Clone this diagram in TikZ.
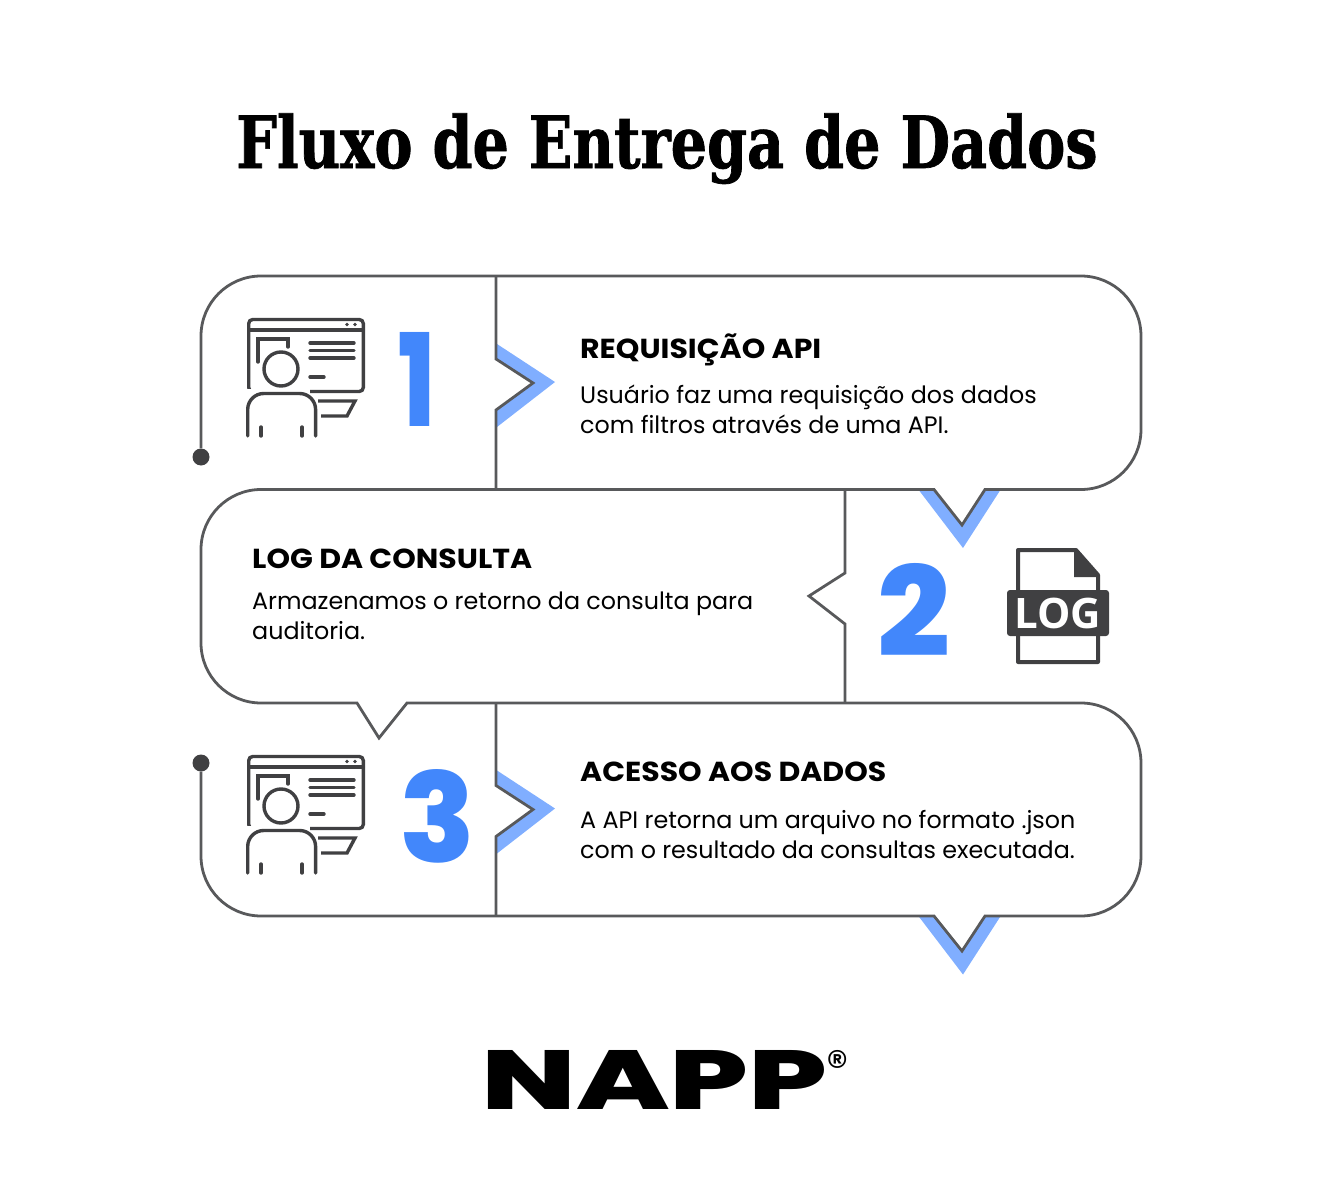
\documentclass[tikz,border=0pt]{standalone}
\usepackage{fontspec}
\setmainfont{Poppins}
\newfontfamily\titlefont[FakeStretch=0.795,FakeBold=1]{DejaVu Serif}
\newfontfamily\headfont[FakeStretch=1.09]{Poppins}
\newfontfamily\logfont{Open Sans}
\newfontfamily\heavyfont{Poppins ExtraBold}
\definecolor{linegray}{HTML}{58595B}
\definecolor{icondark}{HTML}{404042}
\definecolor{numblue}{HTML}{4287FB}
\definecolor{tipblue}{HTML}{80AEFF}
\newcommand{\bignum}[3]{\resizebox{#1pt}{#2pt}{\heavyfont #3}}
\tikzset{
  outline/.style={draw=linegray,line width=2.8pt,line join=miter},
  tipshape/.style={fill=tipblue},
  enddot/.style={circle,fill=icondark,minimum size=17pt,inner sep=0},
  numtext/.style={text=numblue,inner sep=0,anchor=north west},
  headtext/.style={font=\fontsize{27.5}{30}\selectfont\headfont\bfseries,inner sep=0,anchor=base west},
  bodytext/.style={font=\fontsize{23.8}{30}\selectfont,inner sep=0,anchor=north west,align=left},
  iconline/.style={draw=icondark,line width=3.4pt,line cap=round},
  usericon/.pic={
    \draw[iconline,rounded corners=4pt] (248.7,319.5) rectangle (363.3,391.5);
    \draw[iconline] (248.7,330) -- (363.3,330);
    \fill[icondark] (347,324.5) circle (1.8) (355,324.5) circle (1.8);
    \draw[iconline] (258,362) -- (258,339) -- (288,339) -- (288,347);
    \draw[iconline] (310,343) -- (354,343) (310,350.5) -- (354,350.5) (310,358) -- (354,358) (310,377) -- (324,377);
    \draw[iconline,fill=white] (281,369) circle (17);
    \fill[white] (243,389) rectangle (310,398);
    \draw[iconline,rounded corners=16pt,fill=white] (247.7,436) -- (247.7,393.5) -- (315.6,393.5) -- (315.6,436);
    \draw[iconline] (261,427) -- (261,436) (302,427) -- (302,436);
    \draw[iconline,line cap=butt] (318,401) -- (355,401) -- (347,416) -- (321,416);
  }
}
\begin{document}
\begin{tikzpicture}[x=1pt,y=-1pt]
  \useasboundingbox (0,0) rectangle (1334,1196);

  \node[inner sep=0,anchor=base] (title) at (667,168) {\fontsize{72}{80}\selectfont\titlefont\bfseries Fluxo de Entrega de Dados};

  \foreach \dy in {0,426.5} {
    \fill[tipshape] (497,344+\dy) -- (555,382+\dy) -- (497,427+\dy) -- (497,410+\dy) -- (533,383+\dy) -- (497,359+\dy) -- cycle;
    \fill[tipshape] (918,489+\dy) -- (963,548+\dy) -- (1001,489+\dy) -- (985,489+\dy) -- (962,525+\dy) -- (934,489+\dy) -- cycle;
    \draw[outline] (496,276+\dy) -- (496,359+\dy) -- (533,383+\dy) -- (496,410+\dy) -- (496,489+\dy);
  }

  \node[enddot] (dot1) at (201,457) {};
  \node[enddot] (dot3) at (201,763) {};

  \draw[outline,rounded corners=60pt] (dot1) -- (201,276) -- (1141,276) -- (1141,489.5) [sharp corners] -- (985,489.5)
    -- (962,525) -- (934,489.5) [rounded corners=60pt] -- (201,489.5) -- (201,703)
    [sharp corners] -- (357,703) -- (379,738) -- (407,703) [rounded corners=60pt] -- (1141,703) -- (1141,916)
    [sharp corners] -- (985,916) -- (962,951) -- (934,916) [rounded corners=60pt] -- (201,916) -- (dot3);
  \draw[outline] (845,489.5) -- (845,573) -- (809,596) -- (845,624) -- (845,703);

  \pic (icon1) {usericon};
  \pic[yshift=-437pt] (icon3) {usericon};

  \node[numtext] (num1) at (398.5,332) {\bignum{37}{94}{1}};
  \node[numtext] (num2) at (877.5,563) {\bignum{73}{93}{2}};
  \node[numtext] (num3) at (399,769) {\bignum{76}{93}{3}};

  \node[headtext] (head1) at (580,358) {REQUISIÇÃO API};
  \node[bodytext] (body1) at (580,385) {Usuário faz uma requisição dos dados\\com filtros através de uma API.};
  \node[headtext] (head2) at (252,568) {LOG DA CONSULTA};
  \node[bodytext] (body2) at (252,592) {Armazenamos o retorno da consulta para\\auditoria.};
  \node[headtext] (head3) at (580,781) {ACESSO AOS DADOS};
  \node[bodytext] (body3) at (580,810) {A API retorna um arquivo no formato .json\\com o resultado da consultas executada.};

  \draw[icondark,line width=4pt,line join=round] (1018,590) -- (1018,550) -- (1076,550) -- (1098,575) -- (1098,590) (1018,636) -- (1018,662) -- (1098,662) -- (1098,636);
  \fill[icondark] (1074,550) -- (1074,577) -- (1098,577) -- cycle;
  \node[fill=icondark,rounded corners=3pt,minimum width=102pt,minimum height=46pt,inner sep=0,text=white,font=\fontsize{42}{42}\selectfont\logfont\bfseries] (logbadge) at (1058,613) {LOG};

  \node[inner sep=0,anchor=north west] (logo) at (481,1050) {\resizebox{346pt}{59pt}{\heavyfont NAPP}};
  \node[inner sep=0,font=\fontsize{44}{44}\selectfont] (regmark) at (838,1066) {®};
\end{tikzpicture}
\end{document}
